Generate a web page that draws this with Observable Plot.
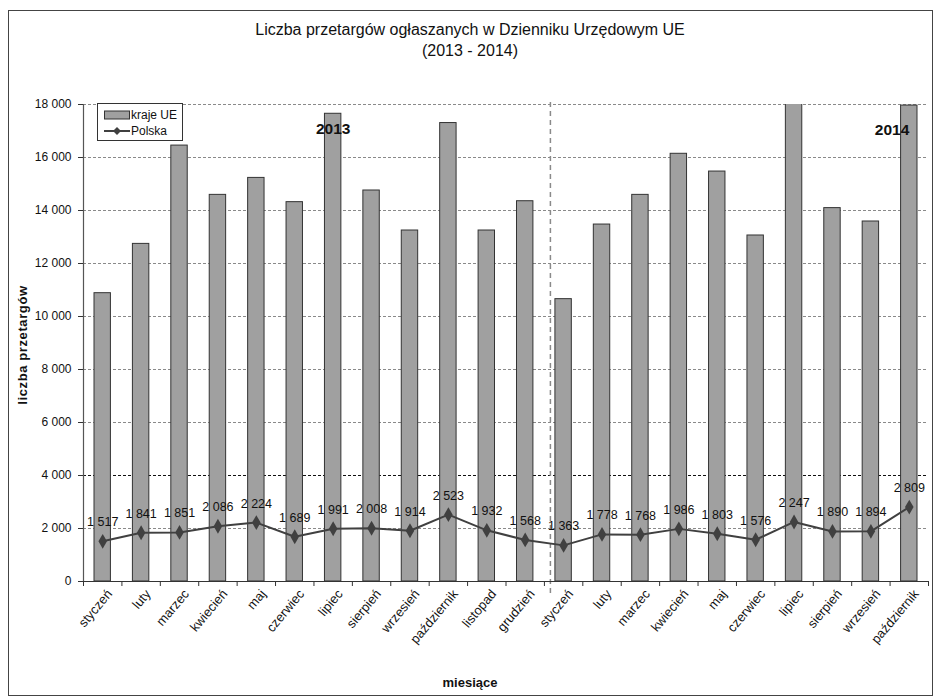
<!DOCTYPE html>
<html><head><meta charset="utf-8">
<script src="https://cdn.jsdelivr.net/npm/d3@7"></script>
<script src="https://cdn.jsdelivr.net/npm/@observablehq/plot@0.6"></script>
<style>
body{margin:0;background:#fff;}
#wrap{position:relative;width:936px;height:700px;font-family:"Liberation Sans",Arial,sans-serif;color:#111;}
#border{position:absolute;left:8px;top:10px;width:925px;height:686px;border:1px solid #444;box-sizing:border-box;pointer-events:none;}
#chart{position:absolute;left:0;top:0;}
.t{position:absolute;white-space:nowrap;}
#title{left:0;width:940px;top:21px;text-align:center;font-size:16px;}
#subtitle{left:0;width:940px;top:42px;text-align:center;font-size:16px;}
#xtitle{left:0;width:940px;top:675px;text-align:center;font-size:13px;font-weight:bold;}
#ytitle{left:22px;top:345px;transform:translate(-50%,-50%) rotate(-90deg);font-weight:bold;font-size:13px;letter-spacing:0.6px;}
#legend{position:absolute;left:97px;top:103px;width:86px;height:38px;border:1px solid #333;background:#fff;box-sizing:border-box;font-size:12px;white-space:nowrap;}
#legend .row{position:absolute;left:6px;height:16px;display:flex;align-items:center;}
</style>
</head><body>
<div id="wrap">
  <div id="chart"></div>
  <div id="border"></div>
  <div class="t" id="title">Liczba przetargów ogłaszanych w Dzienniku Urzędowym UE</div>
  <div class="t" id="subtitle">(2013 - 2014)</div>
  <div class="t" id="xtitle">miesiące</div>
  <div class="t" id="ytitle">liczba przetargów</div>
  <div id="legend">
    <div class="row" style="top:3px"><svg width="26" height="10"><rect x="0.5" y="1" width="25" height="8" fill="#a0a0a0" stroke="#333"/></svg><span style="margin-left:1px">kraje UE</span></div>
    <div class="row" style="top:19px"><svg width="26" height="10"><line x1="0" x2="26" y1="5" y2="5" stroke="#404040" stroke-width="2"/><path d="M13,1 L17,5 L13,9 L9,5 Z" fill="#404040"/></svg><span style="margin-left:1px">Polska</span></div>
  </div>
</div>
<script>
const months2013 = ["styczeń","luty","marzec","kwiecień","maj","czerwiec","lipiec","sierpień","wrzesień","październik","listopad","grudzień"];
const months2014 = ["styczeń","luty","marzec","kwiecień","maj","czerwiec","lipiec","sierpień","wrzesień","październik"];
const monthLabels = [...months2013, ...months2014];
const krajeUE2013 = [10880, 12740, 16450, 14590, 15230, 14315, 17650, 14755, 13245, 17300, 13245, 14350];
const krajeUE2014 = [10655, 13470, 14590, 16140, 15470, 13057, 18500, 14090, 13585, 17960];
const polska2013 = [1517, 1841, 1851, 2086, 2224, 1689, 1991, 2008, 1914, 2523, 1932, 1568];
const polska2014 = [1363, 1778, 1768, 1986, 1803, 1576, 2247, 1890, 1894, 2809];
const yTicks = [0, 2000, 4000, 6000, 8000, 10000, 12000, 14000, 16000, 18000];
const years = ["2013", "2014"];
const yearMonthIndex = [6, 21]; // category on which each year label sits

const krajeUE = [...krajeUE2013, ...krajeUE2014];
const polska = [...polska2013, ...polska2014];
const data = monthLabels.map((m, i) => ({i, m, ue: krajeUE[i], pl: polska[i]}));
const yearData = years.map((y, k) => ({y, i: yearMonthIndex[k]}));
const fmt = v => d3.format(",")(v).replace(/,/g, " ");
const n = data.length;
const font = "'Liberation Sans',Arial,sans-serif";

const chart = Plot.plot({
  width: 936, height: 700,
  marginLeft: 83, marginRight: 8, marginTop: 104, marginBottom: 119,
  style: {fontFamily: font, background: "transparent", color: "#111"},
  x: {domain: [0, n], axis: null},
  y: {domain: [0, 18000], axis: null},
  marks: [
    Plot.ruleY(yTicks.filter(v => v > 0 && v !== 4000), {stroke: "#8a8a8a", strokeDasharray: "3,2", strokeWidth: 1.2}),
    Plot.ruleY(yTicks.filter(v => v === 4000), {stroke: "#111", strokeDasharray: "3,2", strokeWidth: 1.2}),
    Plot.ruleX([12], {dx: 6, stroke: "#8a8a8a", strokeDasharray: "5,4", strokeWidth: 1.5, insetBottom: -16, insetTop: -2}),
    Plot.rectY(data, {x1: d => d.i, x2: d => d.i + 1, y: "ue", fill: "#a0a0a0", stroke: "#333", strokeWidth: 1, insetLeft: 11, insetRight: 11, clip: true}),
    Plot.ruleX([0], {stroke: "#555", strokeWidth: 1.2}),
    Plot.ruleY([0], {stroke: "#333", strokeWidth: 1.2}),
    Plot.axisY(yTicks, {tickSize: 5, tickPadding: 7, tickFormat: fmt, fontSize: 12, label: null, stroke: "#333"}),
    Plot.axisX(d3.range(n + 1), {tickSize: 5, tickFormat: () => "", label: null, stroke: "#333"}),
    Plot.text(data, {x: d => d.i + 0.5, y: 0, text: "m", rotate: -50, textAnchor: "end", dx: 7, dy: 10, fontSize: 13}),
    Plot.line(data, {x: d => d.i + 0.5, y: "pl", stroke: "#404040", strokeWidth: 2}),
    Plot.dot(data, {x: d => d.i + 0.5, y: "pl", symbol: "diamond", r: 4.5, fill: "#404040", stroke: "none"}),
    Plot.text(data, {x: d => d.i + 0.5, y: "pl", text: d => fmt(d.pl), dy: -19, fontSize: 12.5, fill: "#111"}),
    Plot.text(yearData.slice(0, 1), {x: d => d.i + 0.5, frameAnchor: "top", dy: 18, text: "y", fontSize: 15.5, fontWeight: "bold", textAnchor: "middle"}),
    Plot.text(yearData.slice(1), {x: d => d.i + 0.5, frameAnchor: "top", dy: 19, text: "y", fontSize: 15.5, fontWeight: "bold", textAnchor: "end"}),
  ]
});
document.getElementById("chart").appendChild(chart);
</script>
</body></html>
